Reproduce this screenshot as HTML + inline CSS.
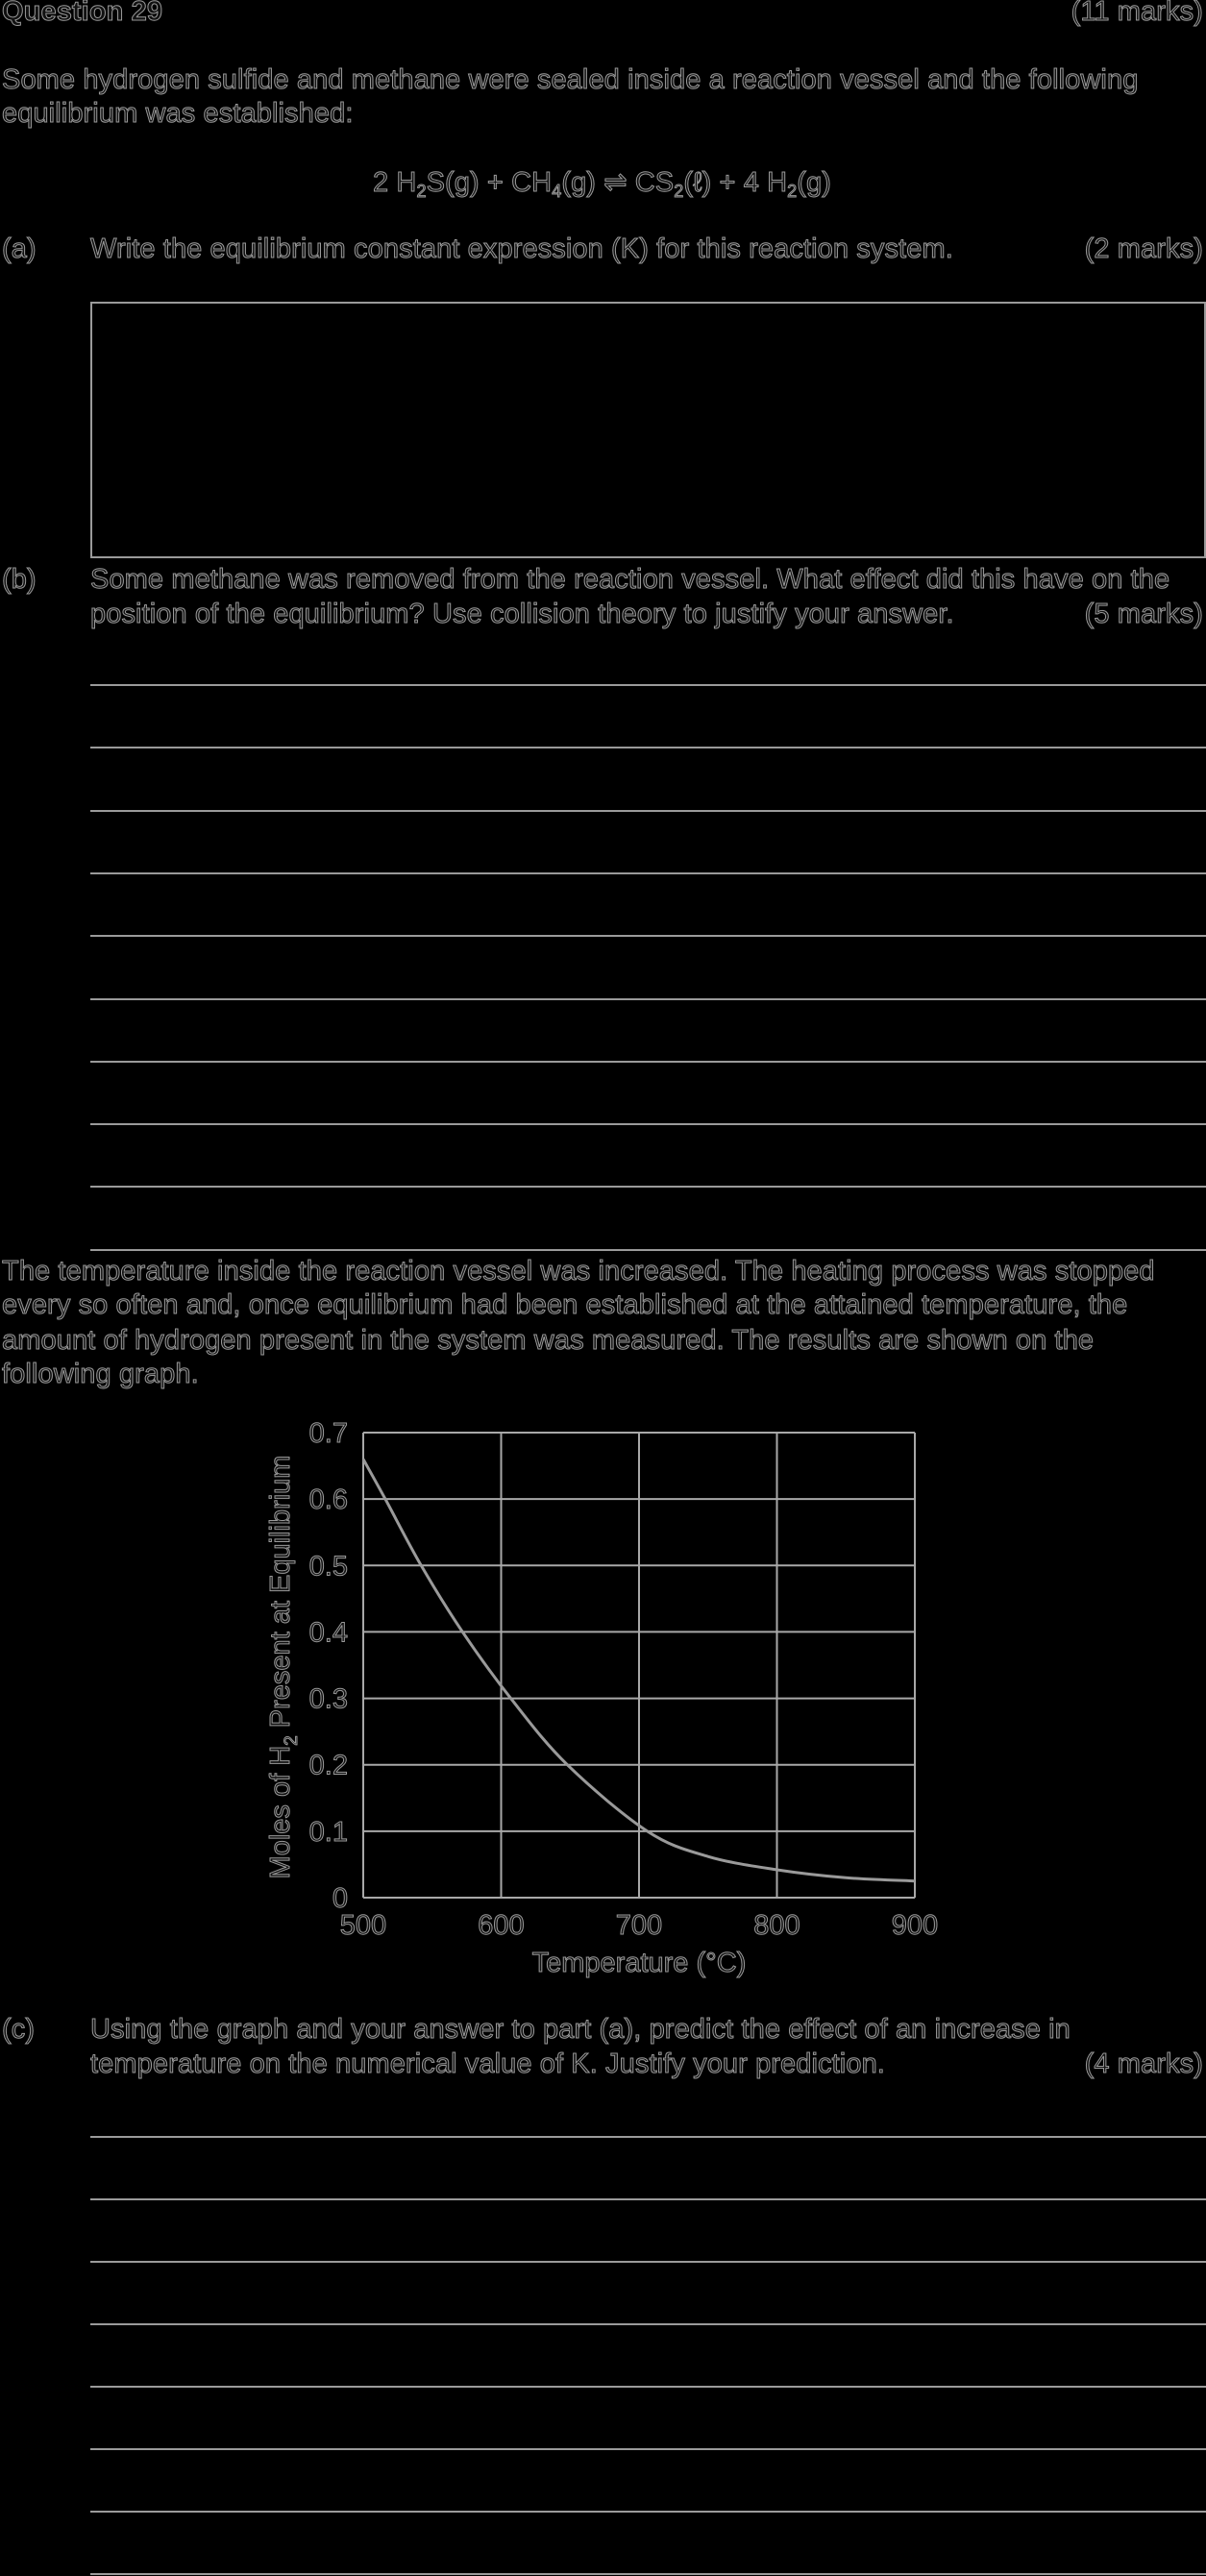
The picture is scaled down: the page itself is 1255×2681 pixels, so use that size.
<!DOCTYPE html>
<html><head><meta charset="utf-8"><style>
html,body{margin:0;padding:0;background:#000;}
body{width:1255px;height:2681px;position:relative;overflow:hidden;font-family:"Liberation Sans",Arial,sans-serif;font-size:29px;color:#111;-webkit-text-stroke:1px #9a9a9a;}
.t{position:absolute;line-height:36px;white-space:nowrap;letter-spacing:0.1px;}
.r{right:3px;}
.hl{position:absolute;left:94px;width:1161px;height:2px;background:#9a9a9a;}
sub{font-size:18px;vertical-align:-6px;line-height:0;}
</style></head><body>
<div class="t" style="left:2px;top:-6px;font-weight:bold">Question 29</div>
<div class="t r" style="top:-6px">(11 marks)</div>
<div class="t" style="left:2px;top:65px">Some hydrogen sulfide and methane were sealed inside a reaction vessel and the following</div>
<div class="t" style="left:2px;top:100px">equilibrium was established:</div>
<div class="t" style="left:388px;top:172px">2 H<sub>2</sub>S(g) + CH<sub>4</sub>(g) ⇌ CS<sub>2</sub>(ℓ) + 4 H<sub>2</sub>(g)</div>
<div class="t" style="left:2px;top:241px">(a)</div>
<div class="t" style="left:94px;top:241px">Write the equilibrium constant expression (K) for this reaction system.</div>
<div class="t r" style="top:241px">(2 marks)</div>
<div style="position:absolute;left:94px;top:314px;width:1157px;height:263px;border:2px solid #9a9a9a"></div>
<div class="t" style="left:2px;top:585px">(b)</div>
<div class="t" style="left:94px;top:585px">Some methane was removed from the reaction vessel. What effect did this have on the</div>
<div class="t" style="left:94px;top:621px">position of the equilibrium? Use collision theory to justify your answer.</div>
<div class="t r" style="top:621px">(5 marks)</div>
<div id="linesB"></div>
<div class="t" style="left:2px;top:1305px">The temperature inside the reaction vessel was increased. The heating process was stopped</div>
<div class="t" style="left:2px;top:1340px">every so often and, once equilibrium had been established at the attained temperature, the</div>
<div class="t" style="left:2px;top:1377px">amount of hydrogen present in the system was measured. The results are shown on the</div>
<div class="t" style="left:2px;top:1412px">following graph.</div>
<svg id="chart" style="position:absolute;left:0;top:0" width="1255" height="2681"></svg>
<div class="t" style="left:2px;top:2094px">(c)</div>
<div class="t" style="left:94px;top:2094px">Using the graph and your answer to part (a), predict the effect of an increase in</div>
<div class="t" style="left:94px;top:2130px">temperature on the numerical value of K. Justify your prediction.</div>
<div class="t r" style="top:2130px">(4 marks)</div>
<div id="linesC"></div>
<script>
const temps=[500,516,542,572,607,648,706,750,800,850,900];
const moles=[0.66,0.6,0.5,0.4,0.3,0.2,0.1,0.062,0.042,0.030,0.025];
const xTicks=[500,600,700,800,900];
const yTicks=[0,0.1,0.2,0.3,0.4,0.5,0.6,0.7];
const yTickLabels=["0","0.1","0.2","0.3","0.4","0.5","0.6","0.7"];

function addLines(id,start,step,n,prefix){
  const c=document.getElementById(id);
  for(let i=0;i<n;i++){
    const d=document.createElement('div');
    d.className='hl';d.style.top=(start+step*i-1)+'px';
    
    
    c.appendChild(d);
  }
}
addLines('linesB',713,65.3,10,'part-b');
addLines('linesC',2224,65,8,'part-c');

const NS='http://www.w3.org/2000/svg';
const svg=document.getElementById('chart');
const L=378,R=952,T=1491,B=1975;
const xs=v=>L+(v-500)/400*(R-L);
const ys=v=>B-v/0.7*(B-T);
function mk(tag,attrs){const e=document.createElementNS(NS,tag);for(const k in attrs)e.setAttribute(k,attrs[k]);svg.appendChild(e);return e;}
xTicks.forEach(t=>{
  const l=mk('line',{x1:xs(t),x2:xs(t),y1:T,y2:B,stroke:'#a8a8a8','stroke-width':2});
  
  
  const tx=mk('text',{x:xs(t),y:B+38,'text-anchor':'middle','font-size':29,fill:'#111',stroke:'#9a9a9a','stroke-width':1});
  tx.textContent=t;
  
  
});
yTicks.forEach((t,i)=>{
  const l=mk('line',{x1:L,x2:R,y1:ys(t),y2:ys(t),stroke:'#a8a8a8','stroke-width':2});
  
  
  const tx=mk('text',{x:362,y:ys(t)+10,'text-anchor':'end','font-size':29,fill:'#111',stroke:'#9a9a9a','stroke-width':1});
  tx.textContent=yTickLabels[i];
  
  
});
const pts=temps.map((t,i)=>[xs(t),ys(moles[i])]);
let d='M'+pts[0][0]+','+pts[0][1];
for(let i=0;i<pts.length-1;i++){
  const p0=pts[Math.max(0,i-1)],p1=pts[i],p2=pts[i+1],p3=pts[Math.min(pts.length-1,i+2)];
  const c1=[p1[0]+(p2[0]-p0[0])/6,p1[1]+(p2[1]-p0[1])/6];
  const c2=[p2[0]-(p3[0]-p1[0])/6,p2[1]-(p3[1]-p1[1])/6];
  d+=' C'+c1[0]+','+c1[1]+' '+c2[0]+','+c2[1]+' '+p2[0]+','+p2[1];
}
const curve=mk('path',{d:d,fill:'none',stroke:'#9a9a9a','stroke-width':3});


const xt=mk('text',{x:(L+R)/2,y:2052,'text-anchor':'middle','font-size':29,fill:'#111',stroke:'#9a9a9a','stroke-width':1});
xt.textContent='Temperature (°C)';


const yt=mk('text',{x:0,y:0,'text-anchor':'middle','font-size':29,fill:'#111',stroke:'#9a9a9a','stroke-width':1,transform:'translate(301,1735) rotate(-90)'});
yt.innerHTML='Moles of H<tspan font-size="19" dy="8">2</tspan><tspan dy="-8"> Present at Equilibrium</tspan>';


</script>
</body></html>
